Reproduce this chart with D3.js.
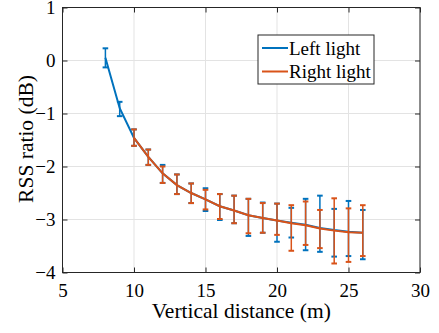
<!DOCTYPE html>
<html>
<head>
<meta charset="utf-8">
<script src="https://cdn.jsdelivr.net/npm/d3@7"></script>
<style>
  body { margin: 0; background: #fff; }
  svg { display: block; }
</style>
</head>
<body>
<svg id="chart" width="439" height="333"></svg>
<script>
// Data (mean with lower / upper bar ends)
const left_x = [8, 9, 10, 11, 12, 13, 14, 15, 16, 17, 18, 19, 20, 21, 22, 23, 24, 25, 26];
const left_mean = [0.05, -0.9, -1.46, -1.82, -2.13, -2.35, -2.5, -2.62, -2.75, -2.83, -2.92, -2.97, -3.02, -3.06, -3.1, -3.16, -3.2, -3.23, -3.25];
const left_upper = [0.23, -0.78, -1.30, -1.68, -1.97, -2.15, -2.32, -2.41, -2.52, -2.55, -2.61, -2.68, -2.7, -2.78, -2.61, -2.55, -2.8, -2.65, -2.82];
const left_lower = [-0.13, -1.05, -1.61, -1.97, -2.31, -2.52, -2.69, -2.84, -3.01, -3.07, -3.31, -3.25, -3.42, -3.34, -3.58, -3.61, -3.7, -3.69, -3.75];

const right_x = [10, 11, 12, 13, 14, 15, 16, 17, 18, 19, 20, 21, 22, 23, 24, 25, 26];
const right_mean = [-1.46, -1.82, -2.13, -2.35, -2.5, -2.62, -2.75, -2.83, -2.92, -2.97, -3.02, -3.07, -3.11, -3.17, -3.21, -3.24, -3.25];
const right_upper = [-1.30, -1.68, -2.0, -2.15, -2.32, -2.44, -2.52, -2.55, -2.61, -2.69, -2.7, -2.73, -2.66, -2.82, -2.6, -2.79, -2.73];
const right_lower = [-1.61, -1.97, -2.31, -2.52, -2.69, -2.81, -2.99, -3.07, -3.26, -3.25, -3.29, -3.59, -3.48, -3.54, -3.83, -3.8, -3.69];

const x_ticks = [5, 10, 15, 20, 25, 30];
const y_ticks = [-4, -3, -2, -1, 0, 1];

const series = [
    { name: 'Left light', color: '#0072BD', x: left_x, mean: left_mean, up: left_upper, lo: left_lower },
    { name: 'Right light', color: '#D95319', x: right_x, mean: right_mean, up: right_upper, lo: right_lower }
];

const serif = 'Liberation Serif';

const svg = d3.select('#chart');
const margin = { top: 7.5, left: 62.5, right: 19, bottom: 60.5 };
const width = 439 - margin.left - margin.right;
const height = 333 - margin.top - margin.bottom;

const g = svg.append('g').attr('transform', `translate(${margin.left},${margin.top})`);

const xScale = d3.scaleLinear().domain([5, 30]).range([0, width]);
const yScale = d3.scaleLinear().domain([-4, 1]).range([height, 0]);

// Grid lines
g.append('g').selectAll('line').data(x_ticks).join('line')
    .attr('x1', d => xScale(d)).attr('x2', d => xScale(d))
    .attr('y1', 0).attr('y2', height)
    .attr('stroke', '#e3e3e3').attr('stroke-width', 1);
g.append('g').selectAll('line').data(y_ticks).join('line')
    .attr('y1', d => yScale(d)).attr('y2', d => yScale(d))
    .attr('x1', 0).attr('x2', width)
    .attr('stroke', '#e3e3e3').attr('stroke-width', 1);

// Axes (box style, ticks inward)
const axisStyle = sel => {
    sel.attr('font-family', serif).attr('font-size', 19);
    sel.select('.domain').remove();
    sel.selectAll('.tick line').attr('stroke', '#262626');
    sel.selectAll('.tick text').attr('fill', '#000');
};
g.append('g').attr('transform', `translate(0,${height})`)
    .call(d3.axisBottom(xScale).tickValues(x_ticks).tickSizeInner(-5).tickPadding(11))
    .call(axisStyle);
g.append('g')
    .call(d3.axisTop(xScale).tickValues(x_ticks).tickSizeInner(-5).tickFormat(''))
    .call(axisStyle);
g.append('g')
    .call(d3.axisLeft(yScale).tickValues(y_ticks).tickSizeInner(-5).tickPadding(7).tickFormat(d3.format('d')))
    .call(axisStyle);
g.append('g').attr('transform', `translate(${width},0)`)
    .call(d3.axisRight(yScale).tickValues(y_ticks).tickSizeInner(-5).tickFormat(''))
    .call(axisStyle);

g.append('rect').attr('x', 0).attr('y', 0).attr('width', width).attr('height', height)
    .attr('fill', 'none').attr('stroke', '#262626').attr('stroke-width', 1);

// Series: error bars then lines
const line = d3.line().x(d => xScale(d.x)).y(d => yScale(d.m));
const cap = 2.8;
series.forEach(s => {
    const pts = s.x.map((x, i) => ({ x: x, m: s.mean[i], up: s.up[i], lo: s.lo[i] }));
    const eb = g.append('g').attr('stroke', s.color).attr('stroke-width', 1.5);
    pts.forEach(p => {
        const px = xScale(p.x);
        eb.append('line').attr('x1', px).attr('x2', px)
            .attr('y1', yScale(p.up)).attr('y2', yScale(p.lo));
        [p.up, p.lo].forEach(v => {
            eb.append('line').attr('x1', px - cap).attr('x2', px + cap)
                .attr('y1', yScale(v)).attr('y2', yScale(v)).attr('stroke-width', 2);
        });
    });
    g.append('path').datum(pts).attr('d', line)
        .attr('fill', 'none').attr('stroke', s.color).attr('stroke-width', 2);
});

// Legend
const legend = g.append('g').attr('transform', `translate(${258 - margin.left},${35 - margin.top})`);
legend.append('rect').attr('width', 116).attr('height', 49)
    .attr('fill', '#fff').attr('stroke', '#262626').attr('stroke-width', 1);
series.forEach((s, i) => {
    const yy = 13 + i * 23.5;
    legend.append('line').attr('x1', 4).attr('x2', 30).attr('y1', yy).attr('y2', yy)
        .attr('stroke', s.color).attr('stroke-width', 2);
    legend.append('text').attr('x', 31).attr('y', yy + 6.5)
        .attr('font-family', serif).attr('font-size', 19).text(s.name);
});

// Axis labels
svg.append('text')
    .attr('x', margin.left + width / 2).attr('y', 318)
    .attr('text-anchor', 'middle').attr('font-family', serif).attr('font-size', 21.5)
    .text('Vertical distance (m)');
svg.append('text')
    .attr('transform', `translate(32.5,139) rotate(-90)`)
    .attr('text-anchor', 'middle').attr('font-family', serif).attr('font-size', 21.5)
    .text('RSS ratio (dB)');
</script>
</body>
</html>
